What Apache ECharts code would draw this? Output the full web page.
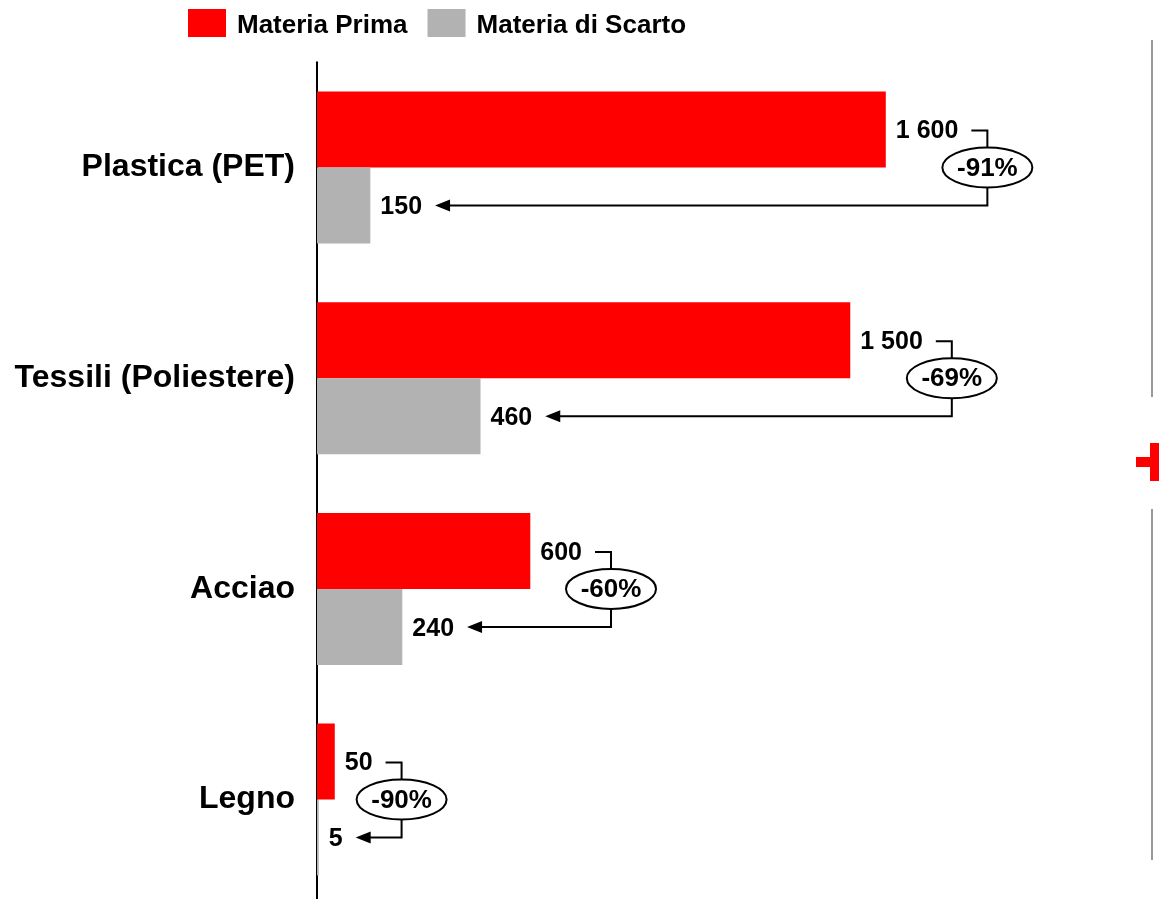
<!DOCTYPE html>
<html><head><meta charset="utf-8">
<script src="https://cdn.jsdelivr.net/npm/echarts@6/dist/echarts.min.js"></script>
<style>html,body{margin:0;padding:0;background:#fff;overflow:hidden}#c{width:1159px;height:912px}</style>
</head><body><div id="c"></div>
<script>
const categories = ['Plastica (PET)', 'Tessili (Poliestere)', 'Acciao', 'Legno'];
const materiaPrima = [1600, 1500, 600, 50];
const materiaScarto = [150, 460, 240, 5];
const seriesNames = ['Materia Prima', 'Materia di Scarto'];

const FONT = '"Liberation Sans", Arial, sans-serif';
const RED = '#FF0000', GRAY = '#B2B2B2';
const BAR_W = 76;
const VAL_FS = 25, PCT_FS = 26;

function fmt(v) { return String(v).replace(/\B(?=(\d{3})+(?!\d))/g, ' '); }
function pct(p, s) { return Math.round((s / p - 1) * 100) + '%'; }

const chart = echarts.init(document.getElementById('c'), null, { renderer: 'canvas' });

const labelStyle = {
  show: true, position: 'right', distance: 10, offset: [0, 2],
  fontFamily: FONT, fontSize: VAL_FS, fontWeight: 'bold', color: '#000',
  formatter: p => fmt(p.value)
};

chart.setOption({
  animation: false,
  backgroundColor: '#fff',
  textStyle: { fontFamily: FONT },
  legend: {
    data: seriesNames, top: 4, left: 183, icon: 'rect',
    itemWidth: 38, itemHeight: 28, itemGap: 20,
    formatter: '{a|{name}}',
    textStyle: { fontFamily: FONT, fontSize: 26, fontWeight: 'bold', color: '#000', padding: [0, 0, 0, 6],
      rich: { a: { fontFamily: FONT, fontSize: 26, fontWeight: 'bold', color: '#000', padding: [6, 0, 0, 0] } } }
  },
  grid: { left: 317, width: 711, top: 62.2, height: 842.7, containLabel: false },
  xAxis: { type: 'value', min: 0, max: 2000, show: false },
  yAxis: {
    type: 'category', data: categories, inverse: true,
    axisLine: { show: true, lineStyle: { color: '#000', width: 2 } },
    axisTick: { show: false },
    axisLabel: { fontFamily: FONT, fontSize: 32, fontWeight: 'bold', color: '#000', margin: 22 },
    splitLine: { show: false }
  },
  series: [
    { name: seriesNames[0], type: 'bar', data: materiaPrima, barWidth: BAR_W, barGap: '0%',
      itemStyle: { color: RED }, label: labelStyle },
    { name: seriesNames[1], type: 'bar', data: materiaScarto, barWidth: BAR_W, barGap: '0%',
      itemStyle: { color: GRAY }, label: labelStyle }
  ]
});

const ctx = document.createElement('canvas').getContext('2d');
function textW(t, fs) { ctx.font = 'bold ' + fs + 'px ' + FONT; return ctx.measureText(t).width; }

const g = [];
const LS = { stroke: '#000', lineWidth: 2, fill: null };
categories.forEach((c, i) => {
  const catY = chart.convertToPixel({ yAxisIndex: 0 }, i);
  const xr = chart.convertToPixel({ xAxisIndex: 0 }, materiaPrima[i]);
  const xg = chart.convertToPixel({ xAxisIndex: 0 }, materiaScarto[i]);
  const ry = catY - BAR_W / 2 + 1, gy = catY + BAR_W / 2;
  const redEnd = xr + 10 + textW(fmt(materiaPrima[i]), VAL_FS);
  const grayEnd = xg + 10 + textW(fmt(materiaScarto[i]), VAL_FS);
  const vx = redEnd + 29;
  const tip = grayEnd + 13;
  const erx = 45, ery = 20;
  g.push({ type: 'polyline', shape: { points: [[redEnd + 13, ry], [vx, ry], [vx, catY - ery]] }, style: LS, z: 10 });
  g.push({ type: 'polyline', shape: { points: [[vx, catY + ery], [vx, gy], [tip + 14, gy]] }, style: LS, z: 10 });
  g.push({ type: 'polygon', shape: { points: [[tip, gy], [tip + 15, gy - 6], [tip + 15, gy + 6]] }, style: { fill: '#000' }, z: 10 });
  g.push({ type: 'ellipse', shape: { cx: vx, cy: catY, rx: erx, ry: ery }, style: { fill: '#fff', stroke: '#000', lineWidth: 2 }, z: 11 });
  g.push({ type: 'text', x: vx, y: catY + 1, style: { text: pct(materiaPrima[i], materiaScarto[i]), align: 'center', verticalAlign: 'middle',
    font: 'bold ' + PCT_FS + 'px ' + FONT, fill: '#000' }, z: 12 });
});
// decorative elements at right edge
g.push({ type: 'line', shape: { x1: 1152, y1: 40, x2: 1152, y2: 397 }, style: { stroke: '#999999', lineWidth: 2 } });
g.push({ type: 'line', shape: { x1: 1152, y1: 509, x2: 1152, y2: 860 }, style: { stroke: '#999999', lineWidth: 2 } });
g.push({ type: 'rect', shape: { x: 1150, y: 443, width: 9, height: 38 }, style: { fill: RED } });
g.push({ type: 'rect', shape: { x: 1136, y: 457, width: 14, height: 10 }, style: { fill: RED } });

chart.setOption({ graphic: g });
</script>
</body></html>
